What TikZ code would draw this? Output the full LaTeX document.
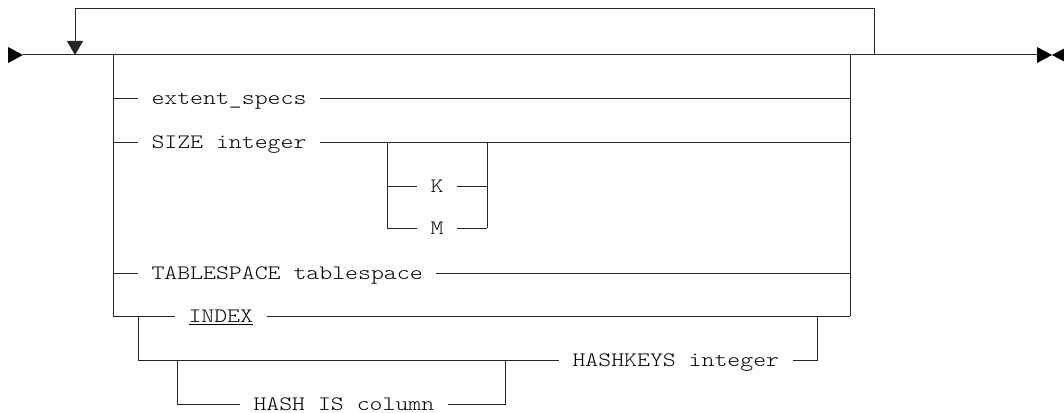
\documentclass[tikz,border=0pt]{standalone}
\usepackage{fontspec}
\setmonofont{lmmonolt10-regular.otf}[FakeStretch=1.2]
\usetikzlibrary{arrows.meta}
\begin{document}
\begin{tikzpicture}[x=1pt,y=-1pt,line width=1pt,
  rr/.style={draw=black!85},
  lbl/.style={font=\fontsize{20.5}{24}\selectfont\ttfamily,inner xsep=13pt,inner ysep=0pt,anchor=base west,text=black},
  tipfill/.style={fill=black}]
\useasboundingbox (0,0) rectangle (1064,412);
% key coordinates
\coordinate (st) at (23,55);
\coordinate (en) at (1037,55);
\coordinate (jL) at (75,55);
\coordinate (jR) at (874,55);
\coordinate (top) at (874,9);
\coordinate (L0) at (113,55);  \coordinate (R0) at (850,55);
\coordinate (L1) at (113,98);  \coordinate (R1) at (850,98);
\coordinate (L2) at (113,142); \coordinate (R2) at (850,142);
\coordinate (L3) at (113,273); \coordinate (R3) at (850,273);
\coordinate (L4) at (113,316); \coordinate (R4) at (850,316);
\coordinate (bKt) at (387,142); \coordinate (bKr) at (487,142);
\coordinate (bK) at (387,186); \coordinate (bKe) at (487,186);
\coordinate (bM) at (387,228); \coordinate (bMe) at (487,228);
\coordinate (i1) at (138,316); \coordinate (i2) at (138,360);
\coordinate (i3) at (817,316); \coordinate (i4) at (817,360);
\coordinate (h1) at (177,360); \coordinate (h2) at (177,404);
\coordinate (h3) at (505,360); \coordinate (h4) at (505,404);
% labels
\node[lbl] (ext) at (138,104.3) {extent\_specs};
\node[lbl] (size) at (138,148.3) {SIZE integer};
\node[lbl,anchor=base] (k) at (437,192.3) {K};
\node[lbl,anchor=base] (m) at (437,234.3) {M};
\node[lbl] (ts) at (138,279.3) {TABLESPACE tablespace};
\node[lbl] (idx) at (175,322.3) {\underline{INDEX}};
\node[lbl] (hk) at (559,366.3) {HASHKEYS integer};
\node[lbl] (hash) at (240,410) {HASH IS column};
% start / end markers
\fill[tipfill] (8,47) -- (st) -- (8,63) -- cycle;
\fill[tipfill] (1037,47) -- (1052,55) -- (1037,63) -- cycle;
\fill[tipfill] (1067,47) -- (1052,55) -- (1067,63) -- cycle;
% main line and repeat loop
\draw[rr] (st) -- (en);
\draw[rr,-{Triangle[length=14pt,width=16pt]}] (jR) -- (top) -| (jL);
% choice box
\draw[rr] (L0) -- (L4);
\draw[rr] (R0) -- (R4);
\draw[rr] (L1) -- (ext.west |- L1);
\draw[rr] (ext.east |- L1) -- (R1);
\draw[rr] (L2) -- (size.west |- L2);
\draw[rr] (size.east |- L2) -- (R2);
\draw[rr] (bKt) -- (bM);
\draw[rr] (bKr) -- (bMe);
\draw[rr] (bK) -- (k.west |- bK);
\draw[rr] (k.east |- bK) -- (bKe);
\draw[rr] (bM) -- (m.west |- bM);
\draw[rr] (m.east |- bM) -- (bMe);
\draw[rr] (L3) -- (ts.west |- L3);
\draw[rr] (ts.east |- L3) -- (R3);
\draw[rr] (L4) -- (idx.west |- L4);
\draw[rr] (idx.east |- L4) -- (R4);
% HASHKEYS alternative
\draw[rr] (i1) -- (i2) -- (hk.west |- i2);
\draw[rr] (hk.east |- i4) -- (i4) -- (i3);
\draw[rr] (h1) -- (h2) -- (hash.west |- h2);
\draw[rr] (hash.east |- h4) -- (h4) -- (h3);
\end{tikzpicture}
\end{document}
